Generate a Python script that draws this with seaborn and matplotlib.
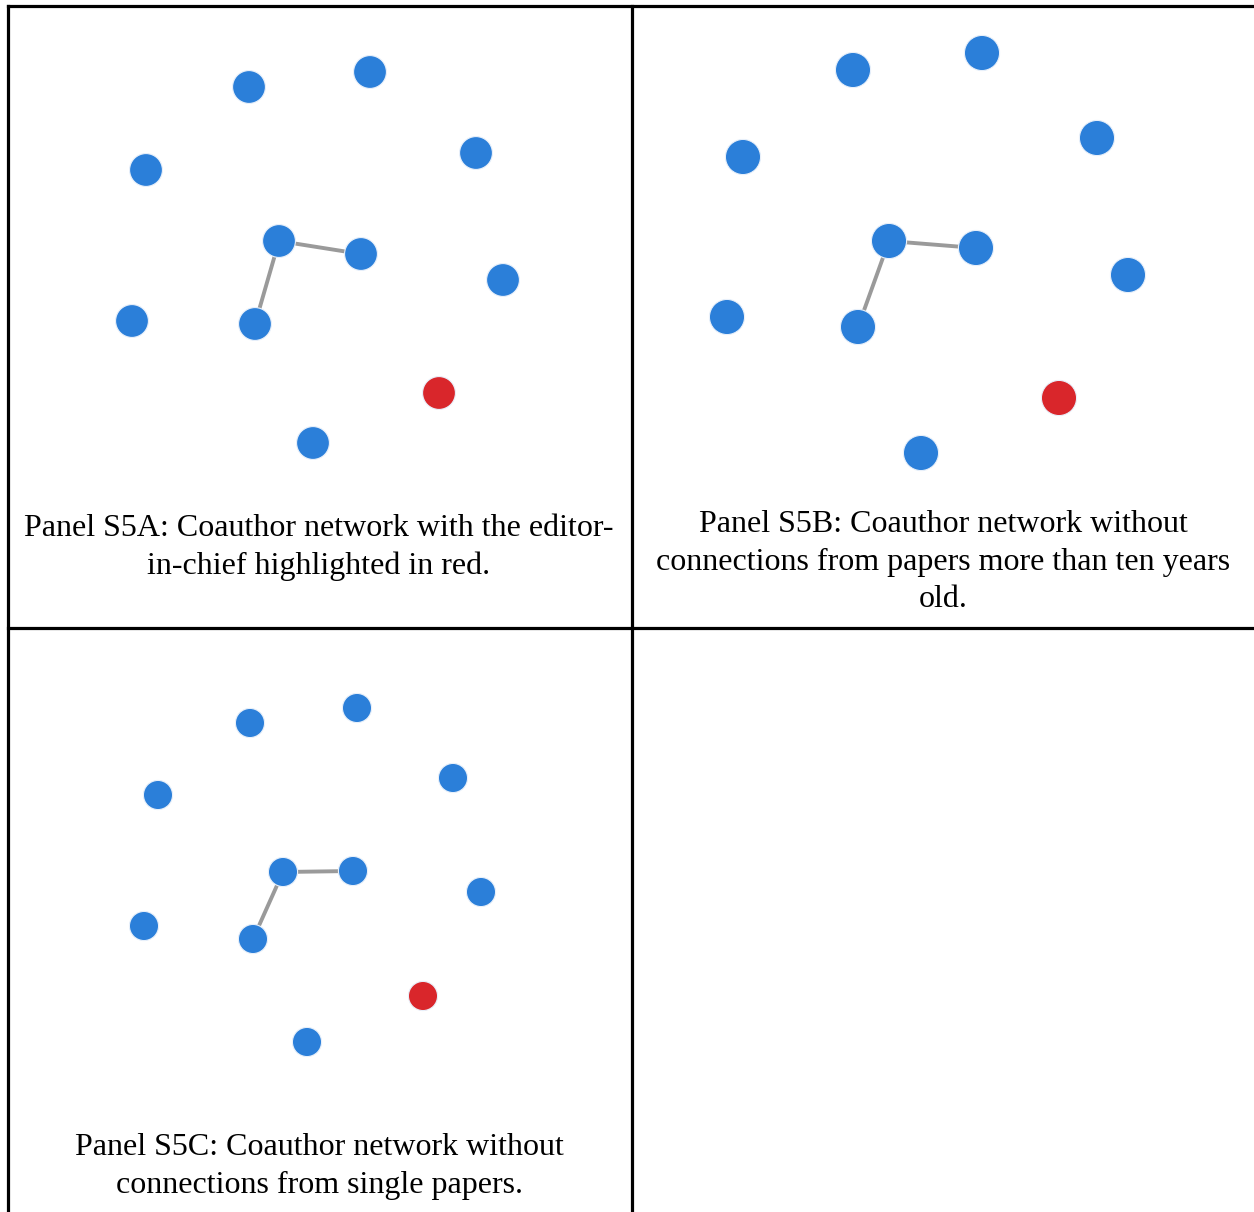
import matplotlib
matplotlib.use("Agg")
import matplotlib.pyplot as plt
import pandas as pd
import seaborn as sns

# ── Data ────────────────────────────────────────────────
# node positions per panel, in picture pixels (x right, y down)
panel_a_x = [249, 370, 146, 476, 279, 361, 503, 132, 255, 439, 313]
panel_a_y = [87, 72, 170, 153, 241, 254, 280, 321, 324, 393, 443]
panel_b_x = [853, 982, 743, 1097, 889, 976, 1128, 727, 858, 1059, 921]
panel_b_y = [70, 53, 157, 138, 241, 248, 275, 317, 327, 398, 453]
panel_c_x = [250, 357, 158, 453, 283, 353, 481, 144, 253, 423, 307]
panel_c_y = [723, 708, 795, 778, 872, 871, 892, 926, 939, 996, 1042]
roles = ["author"] * 9 + ["editor"] + ["author"]

# edges as (node index, node index)
edges = [(4, 5), (4, 8)]

captions = [
    "Panel S5A: Coauthor network with the editor-\nin-chief highlighted in red.",
    "Panel S5B: Coauthor network without\nconnections from papers more than ten years\nold.",
    "Panel S5C: Coauthor network without\nconnections from single papers.",
]

palette = {"author": "#2b7fd9", "editor": "#d9262b"}

# ── Figure ──────────────────────────────────────────────
sns.set_theme(style="white")
plt.rcParams["font.family"] = ["Liberation Serif", "DejaVu Serif"]

fig = plt.figure(figsize=(12.54, 12.12), dpi=100)
ax = fig.add_axes([0, 0, 1, 1])
ax.set_xlim(0, 1254)
ax.set_ylim(1212, 0)
ax.axis("off")

# table borders
border = dict(color="black", lw=2.3, solid_capstyle="projecting")
ax.plot([7.5, 1260], [5.5, 5.5], **border)
ax.plot([7.5, 7.5], [5.5, 1220], **border)
ax.plot([632, 632], [5.5, 1220], **border)
ax.plot([7.5, 1260], [628, 628], **border)

panels = [
    (panel_a_x, panel_a_y, 560),
    (panel_b_x, panel_b_y, 640),
    (panel_c_x, panel_c_y, 440),
]
for xs, ys, size in panels:
    for i, j in edges:
        ax.plot([xs[i], xs[j]], [ys[i], ys[j]], color="#9a9a9a", lw=2.8, zorder=1)
    df = pd.DataFrame({"x": xs, "y": ys, "role": roles})
    sns.scatterplot(data=df, x="x", y="y", hue="role", palette=palette,
                    s=size, edgecolor="#e8f0fa", linewidth=0.8,
                    legend=False, ax=ax, zorder=2)
ax.set(xlabel="", ylabel="")
ax.set_xlim(0, 1254)
ax.set_ylim(1212, 0)

text_kw = dict(ha="center", va="top", fontsize=23, linespacing=1.39,
               color="black")
ax.text(319, 514, captions[0], **text_kw)
ax.text(943, 510, captions[1], **text_kw)
ax.text(319, 1133, captions[2], **text_kw)

fig.savefig("out.png", dpi=100)
